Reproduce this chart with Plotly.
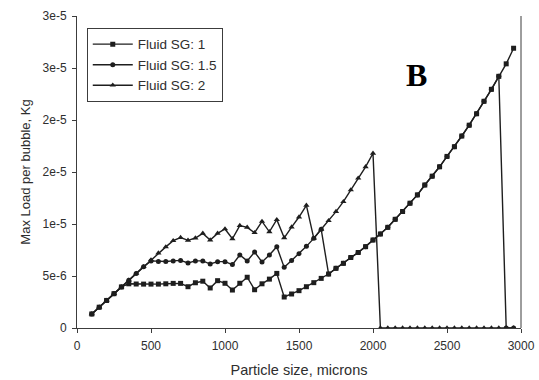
import numpy as np
import plotly.graph_objects as go

# Particle size, microns
size = [100, 150, 200, 250, 300, 350, 400, 450, 500, 550, 600, 650, 700, 750, 800, 850,
        900, 950, 1000, 1050, 1100, 1150, 1200, 1250, 1300, 1350, 1400, 1450, 1500, 1550,
        1600, 1650, 1700, 1750, 1800, 1850, 1900, 1950, 2000, 2050, 2100, 2150, 2200, 2250,
        2300, 2350, 2400, 2450, 2500, 2550, 2600, 2650, 2700, 2750, 2800, 2850, 2900, 2950]

# Max load per bubble, in units of 1e-6 kg
sg1 = [1.35, 2.0, 2.65, 3.3, 3.95, 4.25, 4.23, 4.22, 4.22, 4.22, 4.25, 4.29, 4.29, 3.97, 4.35, 4.5,
       3.85, 4.55, 4.3, 3.65, 4.3, 4.88, 3.68, 4.25, 4.7, 5.25, 2.98, 3.27, 3.59, 3.97,
       4.36, 4.77, 5.19, 5.74, 6.22, 6.78, 7.26, 7.82, 8.46, 9.04, 9.68, 10.45, 11.2, 12.0,
       12.8, 13.75, 14.6, 15.5, 16.5, 17.43, 18.46, 19.5, 20.6, 21.8, 22.95, 24.2, 25.4, 26.9]

sg15 = [1.35, 2.0, 2.65, 3.3, 3.95, 4.6, 5.25, 5.9, 6.45, 6.4, 6.4, 6.45, 6.5, 6.25, 6.45, 6.45,
        6.15, 6.38, 6.38, 6.1, 7.02, 6.45, 7.3, 6.35, 7.02, 7.82, 5.83, 6.5, 7.15, 7.85,
        8.62, 9.49, 5.19, 5.74, 6.22, 6.78, 7.26, 7.82, 8.46, 9.04, 9.68, 10.45, 11.2, 12.0,
        12.8, 13.75, 14.6, 15.5, 16.5, 17.43, 18.46, 19.5, 20.6, 21.8, 22.95, 24.2, 0, 0]

sg2 = [1.35, 2.0, 2.65, 3.3, 3.95, 4.6, 5.25, 5.9, 6.55, 7.2, 7.8, 8.4, 8.7, 8.43, 8.65, 9.1,
       8.46, 9.1, 9.52, 8.58, 9.85, 9.68, 9.16, 10.25, 9.25, 10.42, 8.67, 9.7, 10.67, 11.8,
       8.62, 9.49, 10.32, 11.19, 12.15, 13.27, 14.4, 15.5, 16.8, 0, 0, 0, 0, 0,
       0, 0, 0, 0, 0, 0, 0, 0, 0, 0, 0, 0, 0, 0]

series_names = ["Fluid SG: 1", "Fluid SG: 1.5", "Fluid SG: 2"]
series_values = [sg1, sg15, sg2]
series_symbols = ["square", "circle", "triangle-up"]

y_tickvals = [0, 5e-6, 1e-5, 1.5e-5, 2e-5, 2.5e-5, 3e-5]
y_ticktext = ["0", "5e-6", "1e-5", "2e-5", "2e-5", "3e-5", "3e-5"]
x_tickvals = [0, 500, 1000, 1500, 2000, 2500, 3000]

LINE = "#1e1e1e"
TEXT = "#2e2e2e"
AXIS = "#3c3c3c"
FONT = "Liberation Sans, Arial, sans-serif"

fig = go.Figure()
for name, vals, sym in zip(series_names, series_values, series_symbols):
    fig.add_trace(go.Scatter(
        x=size, y=np.array(vals) * 1e-6, name=name, mode="lines+markers",
        line=dict(color=LINE, width=1.4),
        marker=dict(symbol=sym, size=5 if sym != "triangle-up" else 5.5, color=LINE),
    ))

fig.update_layout(
    width=539, height=380,
    margin=dict(l=77, r=18, t=16, b=52, autoexpand=False),
    paper_bgcolor="white", plot_bgcolor="white",
    font=dict(family=FONT, size=12, color=TEXT),
    showlegend=True,
    legend=dict(
        x=0.022, y=0.962, xanchor="left", yanchor="top",
        bgcolor="white", bordercolor=AXIS, borderwidth=1,
        font=dict(family=FONT, size=13.5, color=TEXT),
        tracegroupgap=0, itemwidth=40,
        entrywidth=107, entrywidthmode="pixels",
    ),
    xaxis=dict(
        range=[0, 3000], tickvals=x_tickvals, showgrid=False, zeroline=False,
        showline=True, linecolor=AXIS, linewidth=1, automargin=False,
        ticks="outside", ticklen=4, tickcolor=AXIS, ticklabelstandoff=3,
        title=dict(text="Particle size, microns", font=dict(size=14.5), standoff=12),
    ),
    yaxis=dict(
        range=[0, 3e-5], tickvals=y_tickvals, ticktext=y_ticktext, showgrid=False,
        zeroline=False, showline=True, linecolor=AXIS, linewidth=1, automargin=False,
        ticks="outside", ticklen=4, tickcolor=AXIS, ticklabelstandoff=3,
        title=dict(text="Max Load per bubble, Kg", font=dict(size=13), standoff=9),
    ),
    shapes=[dict(type="line", xref="paper", yref="paper", x0=1, x1=1, y0=0, y1=1,
                 line=dict(color=AXIS, width=1))],
    annotations=[dict(text="<b>B</b>", xref="paper", yref="paper", x=0.792, y=0.875,
                      showarrow=False, font=dict(family="Liberation Serif, Times New Roman, serif",
                                                 size=32, color="black"))],
)

fig.write_html("out.html")
